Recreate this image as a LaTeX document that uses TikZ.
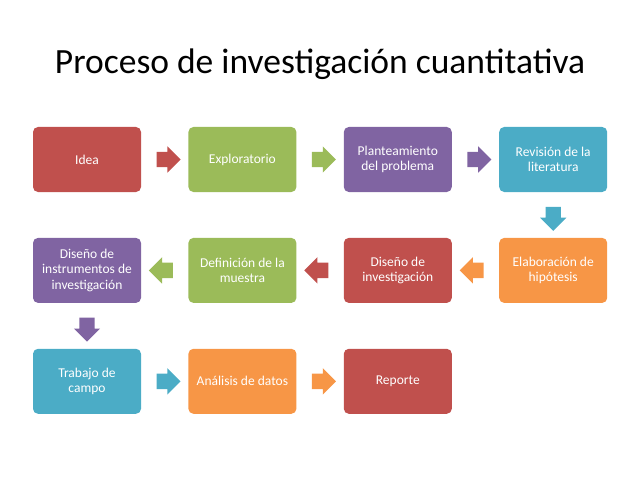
\documentclass[tikz,border=0pt]{standalone}
\usepackage{fontspec}
\setmainfont{Carlito}
\usetikzlibrary{positioning,shapes.arrows}
\definecolor{ored}{HTML}{C0504D}
\definecolor{ogreen}{HTML}{9BBB59}
\definecolor{opurple}{HTML}{8064A2}
\definecolor{ocyan}{HTML}{4BACC6}
\definecolor{oorange}{HTML}{F79646}

\begin{document}
\begin{tikzpicture}[x=1pt, y=1pt, node distance=45.5pt and 47pt,
  box/.style = {shape=rectangle, rounded corners=5pt, fill=#1,
    text=white, align=center, minimum width=108pt, minimum height=65pt,
    inner sep=2pt, font=\fontsize{13.5}{15.5}\selectfont},
  arr/.style = {single arrow, fill=#1, minimum height=24pt,
    single arrow head extend=5.5pt, inner xsep=0pt, inner ysep=7.5pt,
    sloped, allow upside down}]
  \useasboundingbox (0,0) rectangle (639,480);
  \node[anchor=base, font=\fontsize{35.5}{40}\selectfont] (title) at (320,406)
    {Proceso de investigación cuantitativa};
  % first row
  \node[box=ored] (idea) at (87,320.5) {Idea};
  \node[box=ogreen, right=of idea] (explo) {Exploratorio};
  \node[box=opurple, right=of explo] (plant) {Planteamiento\\del problema};
  \node[box=ocyan, right=of plant] (revis) {Revisión de la\\literatura};
  % second row
  \node[box=oorange, below=of revis] (hipot) {Elaboración de\\hipótesis};
  \node[box=ored, left=of hipot] (dinvest) {Diseño de\\investigación};
  \node[box=ogreen, left=of dinvest] (muestra) {Definición de la\\muestra};
  \node[box=opurple, left=of muestra] (dinstr) {Diseño de\\instrumentos de\\investigación};
  % third row
  \node[box=ocyan, below=of dinstr] (campo) {Trabajo de\\campo};
  \node[box=oorange, right=of campo] (datos) {Análisis de datos};
  \node[box=ored, right=of datos] (report) {Reporte};
  % arrows
  \path (idea) -- node[arr=ored] {} (explo);
  \path (explo) -- node[arr=ogreen] {} (plant);
  \path (plant) -- node[arr=opurple] {} (revis);
  \path (revis) -- node[arr=ocyan] {} (hipot);
  \path (hipot) -- node[arr=oorange] {} (dinvest);
  \path (dinvest) -- node[arr=ored] {} (muestra);
  \path (muestra) -- node[arr=ogreen] {} (dinstr);
  \path (dinstr) -- node[arr=opurple] {} (campo);
  \path (campo) -- node[arr=ocyan] {} (datos);
  \path (datos) -- node[arr=oorange] {} (report);
\end{tikzpicture}
\end{document}
